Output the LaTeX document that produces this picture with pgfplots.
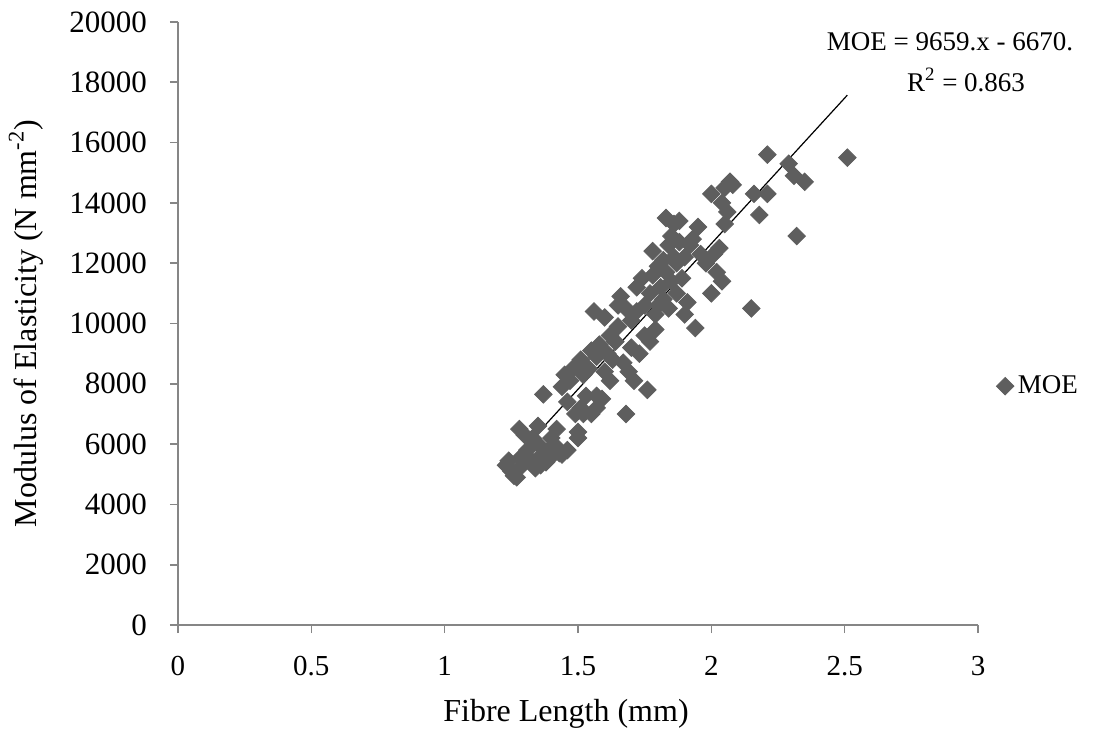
\documentclass[border=0pt]{standalone}
\usepackage{pgfplots}
\pgfplotsset{compat=1.18}
\usepackage{fontspec}
\setmainfont{Liberation Serif}
\definecolor{mk}{HTML}{5E5E5E}
\definecolor{ax}{HTML}{868686}
\begin{document}
\begin{tikzpicture}
\begin{axis}[
  scale only axis, width=400pt, height=301.5pt,
  xmin=0, xmax=3, ymin=0, ymax=20000,
  xtick={0,0.5,...,3}, ytick={0,2000,...,20000},
  axis x line*=bottom, axis y line*=left,
  axis line style={ax, line width=0.8pt},
  every tick/.style={ax, line width=0.8pt},
  tick align=outside, major tick length=4pt,
  /pgf/number format/assume math mode=true,
  /pgf/number format/1000 sep={},
  scaled y ticks=false,
  xticklabel style={yshift=-8pt, font=\fontsize{14.5}{16}\selectfont},
  yticklabel style={xshift=-8pt, font=\fontsize{15.5}{17}\selectfont},
  xlabel={Fibre Length (mm)},
  ylabel={Modulus of Elasticity (N mm\textsuperscript{-2})},
  every axis x label/.style={at={(axis description cs:0.485,-0.1476)}, anchor=center, font=\fontsize{16}{18}\selectfont},
  every axis y label/.style={at={(axis description cs:-0.19,0.5)}, anchor=center, rotate=90, font=\fontsize{16}{18}\selectfont},
  legend style={at={(axis description cs:1.02,0.396)}, anchor=west, draw=none, fill=none,
    font=\fontsize{13.5}{16}\selectfont, inner sep=1pt},
  legend cell align=left,
  clip=false,
]
\addplot[only marks, mark=square*, mark size=3.1pt, mark options={mk, rotate=45, draw=mk, fill=mk}]
coordinates {
(1.23,5300)(1.24,5450)(1.25,5100)(1.26,4950)(1.27,4900)(1.28,5200)(1.29,5600)(1.28,6500)
(1.30,6300)(1.31,5800)(1.32,5500)(1.33,5350)(1.34,5200)(1.35,6000)(1.35,6600)(1.36,5600)
(1.37,7650)(1.38,5400)(1.39,5800)(1.40,6200)(1.41,5900)(1.42,6500)(1.43,5700)(1.44,5650)
(1.44,7900)(1.45,8300)(1.46,7400)(1.47,8100)(1.48,8500)(1.49,7000)(1.50,6400)(1.50,6200)
(1.51,7200)(1.51,8800)(1.52,8300)(1.53,7600)(1.54,8500)(1.55,7000)(1.55,9100)(1.56,10400)
(1.57,7200)(1.57,8900)(1.58,9300)(1.59,7500)(1.60,10200)(1.60,8400)(1.61,9000)(1.62,9600)
(1.62,8100)(1.63,8800)(1.64,9400)(1.65,10600)(1.65,9900)(1.66,10900)(1.67,8700)(1.68,7000)
(1.68,10500)(1.69,8400)(1.70,9200)(1.70,10100)(1.71,8100)(1.72,11200)(1.72,10400)(1.73,9000)
(1.74,11500)(1.75,9600)(1.75,10600)(1.76,7800)(1.77,11000)(1.77,9400)(1.78,12400)(1.78,11600)
(1.79,10300)(1.79,9800)(1.80,11900)(1.80,10600)(1.81,11200)(1.82,12100)(1.82,10800)(1.83,13500)
(1.83,11700)(1.84,12600)(1.84,10500)(1.85,12900)(1.85,11400)(1.86,13300)(1.86,12200)(1.87,12000)
(1.87,11000)(1.88,13400)(1.88,12700)(1.89,11500)(1.90,12200)(1.90,10300)(1.91,10700)(1.92,12600)
(1.93,12800)(1.94,9850)(1.95,13200)(1.96,12300)(1.98,12000)(2.00,14300)(2.00,11000)(2.01,12300)
(2.02,11700)(2.03,12500)(2.04,11400)(2.04,14000)(2.05,14500)(2.05,13300)(2.06,13700)(2.07,14700)
(2.08,14600)(2.15,10500)(2.16,14300)(2.18,13600)(2.21,15600)(2.21,14300)(2.29,15300)(2.31,14900)
(2.32,12900)(2.35,14700)(2.51,15500)
(1.36,5300)(1.39,5500)(1.42,5900)(1.33,6200)(1.30,5400)(1.46,5800)(1.52,7000)(1.57,7600)
};
\addlegendentry{MOE}
\addplot[black, line width=0.6pt, forget plot] coordinates {(1.23,5211)(2.51,17574)};
\node[font=\fontsize{13.5}{16}\selectfont] at (axis description cs:0.965,0.967) {MOE = 9659.x - 6670.};
\node[font=\fontsize{13.5}{16}\selectfont] at (axis description cs:0.985,0.904) {R\textsuperscript{2} = 0.863};
\coordinate (ll) at (axis description cs:0,0);
\coordinate (ur) at (axis description cs:1,1);
\end{axis}
\path ([shift={(-89pt,-59.5pt)}]ll) rectangle ([shift={(66.5pt,11pt)}]ur);
\end{tikzpicture}
\end{document}
